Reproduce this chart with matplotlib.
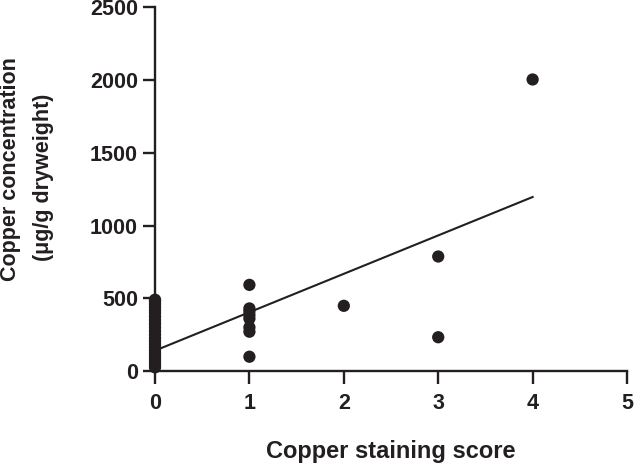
import numpy as np
import matplotlib.pyplot as plt

# staining score 0
score0_y = [25, 45, 65, 85, 105, 125, 145, 165, 185, 205, 225, 250, 275, 300,
            325, 350, 375, 400, 420, 440, 460, 480, 490]
# staining score 1
score1_y = [592, 430, 410, 385, 360, 300, 270, 98]
score2_y = [448]
score3_y = [787, 232]
score4_y = [2004]

# regression line
fit_x = [0, 4]
fit_y = [140, 1196]

x_ticks = [0, 1, 2, 3, 4, 5]
y_ticks = [0, 500, 1000, 1500, 2000, 2500]

ink = '#231f20'
plt.rcParams['font.family'] = ['Liberation Sans', 'DejaVu Sans']
plt.rcParams['font.weight'] = 'bold'

fig = plt.figure(figsize=(6.34, 4.66), dpi=100)
ax = fig.add_axes([0.2445, 0.2039, 0.7445, 0.7804])

xs = []
ys = []
for score, vals in zip([0, 1, 2, 3, 4], [score0_y, score1_y, score2_y, score3_y, score4_y]):
    xs += [score] * len(vals)
    ys += vals

ax.scatter(xs, ys, s=78, color=ink, edgecolors='none', zorder=3, clip_on=False)
ax.plot(fit_x, fit_y, color=ink, lw=1.5, zorder=2)

ax.set_xlim(0, 5)
ax.set_ylim(0, 2500)
ax.set_xticks(x_ticks)
ax.set_yticks(y_ticks)
ax.spines['top'].set_visible(False)
ax.spines['right'].set_visible(False)
for s in ['left', 'bottom']:
    ax.spines[s].set_linewidth(1.7)
    ax.spines[s].set_color(ink)
ax.tick_params(axis='x', direction='out', length=9, width=1.7, color=ink,
               labelsize=15.5, pad=6.5, labelcolor=ink)
ax.tick_params(axis='y', direction='out', length=8.6, width=1.7, color=ink,
               labelsize=15.5, pad=3.6, labelcolor=ink)
for lbl in ax.get_xticklabels() + ax.get_yticklabels():
    lbl.set_fontweight('bold')
for lbl in ax.get_yticklabels():
    lbl.set_verticalalignment('center_baseline')

ax.set_xlabel('Copper staining score', fontsize=17, fontweight='bold', color=ink)
ax.xaxis.set_label_coords(0.5, -0.19)
fig.text(0.0166, 0.637, 'Copper concentration', rotation=90, ha='center', va='center',
         fontsize=15.5, fontweight='bold', color=ink)
fig.text(0.068, 0.62, '(\u03bcg/g dryweight)', rotation=90, ha='center', va='center',
         fontsize=15.5, fontweight='bold', color=ink)

fig.savefig('out.png', dpi=100)
